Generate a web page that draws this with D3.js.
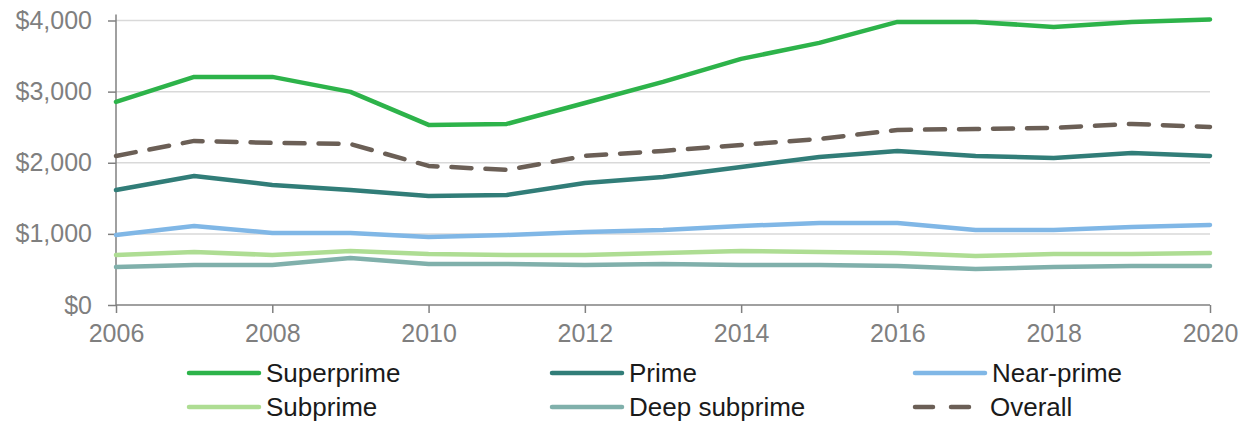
<!DOCTYPE html>
<html>
<head>
<meta charset="utf-8">
<script src="https://cdn.jsdelivr.net/npm/d3@7"></script>
<style>
  body { margin: 0; background: #fff; }
  svg { display: block; font-family: "Liberation Sans", Arial, sans-serif; }
</style>
</head>
<body>
<div id="chart"></div>
<script>
// Data
var years = [2006, 2007, 2008, 2009, 2010, 2011, 2012, 2013, 2014, 2015, 2016, 2017, 2018, 2019, 2020];
var superprime = [2855, 3207, 3207, 2996, 2532, 2546, 2840, 3136, 3460, 3685, 3980, 3980, 3910, 3980, 4015];
var prime = [1617, 1814, 1688, 1617, 1533, 1547, 1716, 1800, 1941, 2082, 2166, 2096, 2068, 2138, 2096];
var nearPrime = [985, 1111, 1013, 1013, 956, 985, 1027, 1055, 1111, 1153, 1153, 1055, 1055, 1097, 1125];
var subprime = [703, 745, 703, 759, 717, 703, 703, 731, 759, 745, 731, 689, 717, 717, 731];
var deepSubprime = [534, 563, 563, 661, 577, 577, 563, 577, 563, 563, 549, 506, 534, 549, 549];
var overall = [2096, 2307, 2279, 2264, 1955, 1899, 2096, 2166, 2250, 2335, 2461, 2475, 2490, 2546, 2503];
var yTicks = [0, 1000, 2000, 3000, 4000];
var xTicks = [2006, 2008, 2010, 2012, 2014, 2016, 2018, 2020];

var series = [
  { name: "Superprime", values: superprime, color: "#2db34a", dash: null },
  { name: "Prime", values: prime, color: "#317d78", dash: null },
  { name: "Near-prime", values: nearPrime, color: "#80b7e6", dash: null },
  { name: "Subprime", values: subprime, color: "#aedd93", dash: null },
  { name: "Deep subprime", values: deepSubprime, color: "#80b0ab", dash: null },
  { name: "Overall", values: overall, color: "#6b5f56", dash: "20,14" }
];

var width = 1248, height = 424;
var margin = { left: 116, right: 38, top: 20.5, bottom: 119 };

var svg = d3.select("#chart").append("svg")
  .attr("width", width)
  .attr("height", height);

var x = d3.scaleLinear().domain([2006, 2020]).range([margin.left, width - margin.right]);
var y = d3.scaleLinear().domain([0, 4000]).range([height - margin.bottom, margin.top]);

// gridlines
svg.append("g")
  .selectAll("line")
  .data(yTicks.slice(1))
  .enter().append("line")
  .attr("x1", x(2006)).attr("x2", x(2020))
  .attr("y1", d => y(d)).attr("y2", d => y(d))
  .attr("stroke", "#d9d9d9")
  .attr("stroke-width", 1.5);

// y axis
var yAxis = svg.append("g")
  .attr("transform", "translate(" + margin.left + ",0)")
  .call(d3.axisLeft(y).tickValues(yTicks).tickSize(8).tickPadding(16)
    .tickFormat(d => "$" + d3.format(",")(d)));
yAxis.select(".domain").attr("stroke", "#808080").attr("stroke-width", 1.5)
  .attr("d", "M0," + (margin.top - 6) + "V" + y(0));
yAxis.selectAll(".tick line").attr("stroke", "#808080").attr("stroke-width", 1.5);
yAxis.selectAll(".tick text").attr("fill", "#7f7f7f").style("font-size", "25px");

// x axis
var xAxis = svg.append("g")
  .attr("transform", "translate(0," + y(0) + ")")
  .call(d3.axisBottom(x).tickValues(xTicks).tickSize(8).tickPadding(11)
    .tickFormat(d3.format("d")));
xAxis.select(".domain").attr("stroke", "#808080").attr("stroke-width", 1.5)
  .attr("d", "M" + x(2006) + ",0H" + x(2020));
xAxis.selectAll(".tick line").attr("stroke", "#808080").attr("stroke-width", 1.5);
xAxis.selectAll(".tick text").attr("fill", "#7f7f7f").style("font-size", "25px");

// lines
var line = d3.line()
  .x((d, i) => x(years[i]))
  .y(d => y(d));

svg.append("g")
  .selectAll("path")
  .data(series)
  .enter().append("path")
  .attr("d", d => line(d.values))
  .attr("fill", "none")
  .attr("stroke", d => d.color)
  .attr("stroke-width", 4.5)
  .attr("stroke-linecap", "round")
  .attr("stroke-linejoin", "round")
  .attr("stroke-dasharray", d => d.dash);

// legend
var legendCols = [189, 552, 915];
var legendRows = [373, 407];
var legend = svg.append("g")
  .selectAll("g")
  .data(series)
  .enter().append("g")
  .attr("transform", (d, i) => "translate(" + legendCols[i % 3] + "," + legendRows[Math.floor(i / 3)] + ")");

legend.append("line")
  .attr("x1", 0).attr("x2", d => d.dash ? 56 : 70)
  .attr("y1", 0).attr("y2", 0)
  .attr("stroke", d => d.color)
  .attr("stroke-width", 4.5)
  .attr("stroke-linecap", "round")
  .attr("stroke-dasharray", d => d.dash ? "18,18" : null);

legend.append("text")
  .attr("x", d => d.dash ? 75 : 77)
  .attr("y", 0)
  .attr("dy", "0.35em")
  .attr("fill", "#1a1a1a")
  .style("font-size", "26px")
  .text(d => d.name);
</script>
</body>
</html>
